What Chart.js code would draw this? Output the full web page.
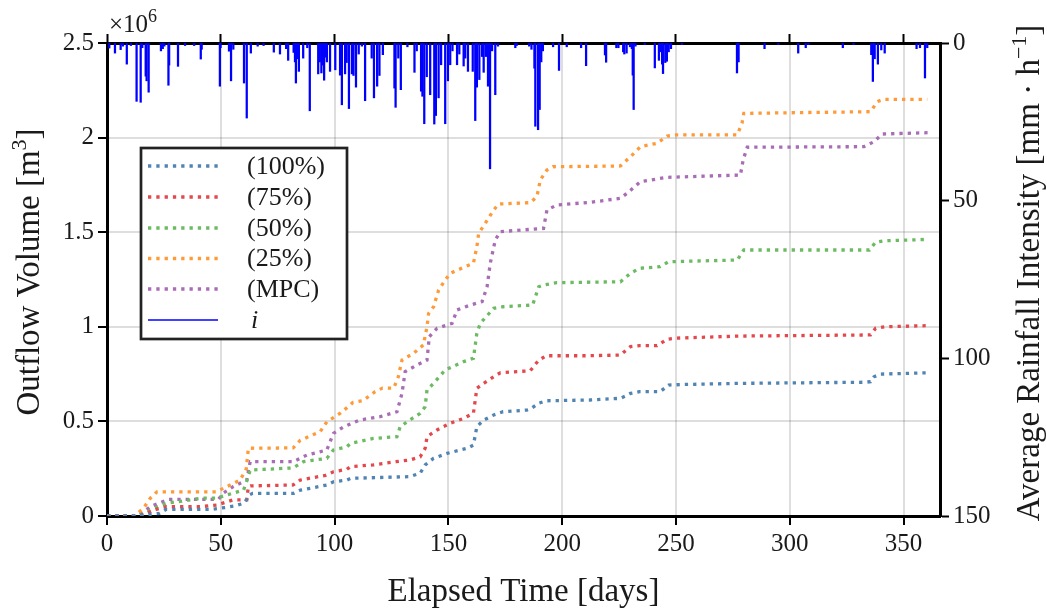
<!DOCTYPE html>
<html>
<head>
<meta charset="utf-8">
<script src="https://cdn.jsdelivr.net/npm/chart.js@4/dist/chart.umd.min.js"></script>
<style>
  html, body { margin: 0; padding: 0; background: #fff; }
  #wrap { width: 1047px; height: 610px; }
</style>
</head>
<body>
<div id="wrap"><canvas id="c" width="1047" height="610"></canvas></div>
<script>
// Cumulative outflow volume per control scenario, in 10^6 m³
const days100 = [0, 12, 16, 20, 23, 26, 46, 52, 56, 60, 61.5, 62.5, 64, 82, 85, 90, 96.6, 99.5, 105.4, 107, 133, 137.6, 139.8, 143.5, 149.4, 158.2, 161, 162.5, 165.5, 169.9, 174, 184.5, 186, 189.7, 193, 212, 225.6, 228, 230, 234, 243, 246.8, 253, 278, 333, 335.5, 337, 340, 360.4];
const vol100  = [0, 0, 0.004, 0.01, 0.014, 0.035, 0.035, 0.045, 0.053, 0.067, 0.09, 0.111, 0.12, 0.12, 0.137, 0.148, 0.164, 0.181, 0.19, 0.199, 0.208, 0.226, 0.27, 0.305, 0.331, 0.358, 0.375, 0.472, 0.507, 0.534, 0.551, 0.56, 0.565, 0.596, 0.609, 0.613, 0.622, 0.635, 0.648, 0.657, 0.657, 0.692, 0.695, 0.701, 0.707, 0.71, 0.736, 0.75, 0.757];

const days75 = [0, 13, 17, 20, 26, 41, 48.2, 55.4, 61.4, 62.1, 63, 81.8, 84.9, 96, 99.5, 105.4, 107, 117, 127, 133, 137.6, 139.8, 140.6, 145, 150.8, 156.7, 161, 162.5, 165.5, 169.9, 172.8, 186, 189.7, 193, 212, 225.6, 230, 234, 241.7, 246.1, 250, 278, 335.5, 337.7, 341.8, 360.4];
const vol75  = [0, 0, 0.01, 0.03, 0.049, 0.049, 0.058, 0.085, 0.085, 0.155, 0.159, 0.164, 0.19, 0.215, 0.234, 0.247, 0.261, 0.27, 0.287, 0.296, 0.313, 0.358, 0.419, 0.455, 0.49, 0.516, 0.543, 0.675, 0.701, 0.736, 0.757, 0.768, 0.824, 0.847, 0.847, 0.851, 0.895, 0.9, 0.9, 0.934, 0.94, 0.951, 0.957, 0.992, 1.0, 1.006];

const days50 = [0, 13, 17, 20.4, 26, 41.8, 48, 52.6, 60, 62.1, 62.9, 81.8, 86.3, 96.6, 99.5, 105.4, 107, 117, 127.4, 128.8, 133, 137.6, 139.8, 140.6, 143.5, 148.6, 156.7, 161, 162.5, 164, 169.9, 174, 187, 189.7, 191.8, 197.7, 225.6, 230, 234, 243, 246.8, 276.9, 279.8, 335, 337.7, 341.8, 360.8];
const vol50  = [0, 0, 0.015, 0.04, 0.067, 0.094, 0.094, 0.111, 0.137, 0.208, 0.243, 0.254, 0.287, 0.305, 0.349, 0.366, 0.384, 0.41, 0.419, 0.472, 0.507, 0.543, 0.578, 0.666, 0.701, 0.772, 0.816, 0.834, 0.966, 1.018, 1.098, 1.106, 1.115, 1.212, 1.221, 1.233, 1.238, 1.283, 1.309, 1.318, 1.344, 1.353, 1.406, 1.406, 1.447, 1.455, 1.462];

const days25 = [0, 12, 16, 19, 22, 48, 52.6, 58.5, 61.2, 62.1, 81.8, 84.9, 93.7, 96.6, 102.5, 106.9, 108, 112.5, 117.8, 121, 126, 128, 129.6, 134.7, 139, 140.6, 141.3, 143.5, 145.7, 148.6, 150.8, 156.7, 161, 162.5, 163.3, 166.2, 169.9, 172, 186, 188.9, 190.4, 193.3, 196, 225.6, 230, 234.4, 241.7, 246.1, 250.5, 276.9, 279, 279.8, 335.5, 338.4, 341, 360.4];
const vol25  = [0, 0, 0.04, 0.094, 0.128, 0.128, 0.155, 0.19, 0.25, 0.358, 0.36, 0.40, 0.446, 0.498, 0.543, 0.587, 0.60, 0.61, 0.657, 0.676, 0.676, 0.736, 0.824, 0.86, 0.904, 1.0, 1.07, 1.106, 1.194, 1.247, 1.283, 1.314, 1.336, 1.423, 1.494, 1.547, 1.617, 1.649, 1.656, 1.688, 1.776, 1.829, 1.846, 1.85, 1.899, 1.952, 1.97, 2.008, 2.014, 2.014, 2.076, 2.128, 2.137, 2.19, 2.202, 2.202];

const daysMPC = [0, 13, 16, 19, 27, 49, 51, 55.4, 61.4, 62.9, 81.8, 87.8, 96.6, 99.5, 104, 111, 120, 127.4, 129.6, 131, 136.2, 140.6, 141.6, 145, 151.6, 153.8, 159.6, 164.8, 167, 168.4, 170.6, 172.8, 191.8, 193.3, 197.7, 212.4, 225.6, 228.5, 234.4, 246.1, 278.3, 279.5, 281.3, 332.6, 337, 340.6, 361];
const volMPC  = [0, 0, 0.02, 0.049, 0.088, 0.088, 0.12, 0.155, 0.19, 0.287, 0.287, 0.322, 0.349, 0.437, 0.472, 0.507, 0.525, 0.551, 0.648, 0.763, 0.798, 0.824, 0.948, 0.992, 1.018, 1.089, 1.115, 1.133, 1.212, 1.336, 1.459, 1.503, 1.52, 1.617, 1.644, 1.658, 1.679, 1.706, 1.767, 1.79, 1.802, 1.882, 1.949, 1.952, 1.978, 2.019, 2.026];

// Average rainfall intensity events (day, mm/h)
const rainDays = [1.0, 3.5, 6.0, 7.0, 8.7, 10.5, 13.0, 14.8, 15.5, 17.0, 17.4, 18.3, 23.7, 24.5, 25.2, 27.0, 27.3, 31.2, 34.3, 38.3, 41.2, 41.6, 49.6, 49.9, 53.6, 54.5, 55.5, 60.2, 61.4, 63.2, 66.2, 68.8, 73.3, 76.0, 78.7, 79.6, 82.0, 82.6, 83.0, 83.6, 84.3, 86.2, 88.0, 89.1,
  92.8, 93.5, 94.2, 94.8, 95.4, 96.0, 96.6, 98.0, 100.3, 102.4, 103.2, 104.6, 105.3, 106.3, 107.6, 108.3, 109.4, 110.6, 112.0, 113.4, 116.3, 117.3, 118.7, 119.7, 121.2, 126.3, 126.8, 128.0, 129.1, 132.0, 135.1, 136.1, 138.0, 138.6, 139.4, 140.5, 142.0, 143.8, 144.5, 145.7, 146.8, 148.6, 149.8, 150.8, 151.8, 153.8, 154.8, 156.7, 157.4, 158.6, 160.7, 161.8, 162.5, 163.6, 164.8, 165.5, 166.5, 167.4, 168.3, 169.2, 170.6, 171.8, 179.4, 180.0,
  185.5, 186.5, 187.8, 188.2, 189.4, 190.1, 190.8, 191.5, 196.0, 198.6, 202.0, 208.3, 210.5, 218.8, 219.3, 223.8, 224.7, 226.8, 227.3, 228.3, 229.8, 230.6, 231.0, 231.4, 232.2, 236.3, 240.7, 242.5, 243.2, 243.9, 244.3, 245.3, 246.0, 246.8, 247.8, 252.6,
  276.8, 277.5, 288.9, 295.0, 303.7, 307.0, 308.2, 323.3, 328.0, 335.8, 336.5, 337.3, 338.7, 340.2, 341.7, 355.7, 357.2, 359.4, 360.4];
const rainIntensity = [1.6, 3.2, 2.1, 1.0, 6.7, 0.8, 18.5, 18.8, 1.5, 10.5, 12.0, 15.6, 2.5, 1.8, 1.0, 13.4, 7.0, 7.4, 0.8, 0.8, 5.1, 2.0, 13.7, 1.5, 2.6, 12.0, 2.0, 12.7, 23.8, 3.2, 1.0, 0.8, 2.9, 3.5, 1.8, 5.5, 3.0, 6.0, 12.7, 5.0, 9.0, 4.8, 1.5, 21.5,
  9.8, 6.0, 9.5, 7.0, 11.8, 4.5, 6.0, 9.0, 8.5, 10.2, 19.6, 9.8, 6.2, 20.8, 9.8, 10.3, 14.0, 3.5, 1.0, 18.3, 4.8, 17.4, 13.7, 10.3, 3.7, 14.3, 20.4, 4.8, 14.8, 1.2, 9.3, 2.5, 15.3, 16.9, 25.6, 10.7, 16.4, 25.7, 23.0, 17.4, 6.9, 25.6, 12.0, 6.9, 2.5, 6.9, 3.5, 7.3, 4.8, 9.0, 9.0, 24.6, 14.0, 11.6, 4.3, 9.3, 4.3, 13.7, 39.9, 2.5, 16.4, 1.0, 1.5, 0.8,
  1.0, 2.0, 8.0, 26.4, 27.5, 21.1, 6.0, 2.5, 1.2, 8.7, 1.2, 1.5, 7.2, 3.8, 6.1, 1.5, 1.5, 2.8, 3.5, 3.2, 1.2, 1.8, 10.2, 21.1, 1.0, 0.5, 7.9, 5.5, 2.8, 6.7, 9.7, 6.2, 5.8, 2.8, 1.8, 0.5,
  9.5, 6.0, 1.8, 0.5, 3.2, 1.5, 0.5, 1.5, 0.5, 3.7, 12.2, 5.0, 6.7, 2.2, 3.2, 1.8, 1.5, 11.1, 1.5];

const seriesLabels = ['(100%)', '(75%)', '(50%)', '(25%)', '(MPC)'];
const seriesColors = ['#5084b3', '#e4484c', '#6cba62', '#ff9a38', '#a86db5'];
const seriesDays = [days100, days75, days50, days25, daysMPC];
const seriesVols = [vol100, vol75, vol50, vol25, volMPC];

const xTicks = [0, 50, 100, 150, 200, 250, 300, 350];

const FONT = '"Liberation Serif", "Times New Roman", serif';
const INK = '#1a1a1a';

const lineSets = seriesLabels.map((label, i) => ({
  type: 'line',
  label,
  data: seriesDays[i].map((d, k) => ({ x: d, y: seriesVols[i][k] })),
  xAxisID: 'x',
  yAxisID: 'y',
  borderColor: seriesColors[i],
  backgroundColor: seriesColors[i],
  borderWidth: 3.3,
  borderDash: [3.3, 5],
  borderCapStyle: 'butt',
  pointRadius: 0,
  tension: 0,
  fill: false,
  order: 1
}));

const rainSet = {
  type: 'bar',
  label: 'i',
  data: rainDays.map((d, k) => ({ x: d, y: rainIntensity[k] })),
  xAxisID: 'x',
  yAxisID: 'y2',
  backgroundColor: '#0000ff',
  borderWidth: 0,
  barThickness: 1.6,
  grouped: false,
  order: 0
};

function keepXTicks(scale) {
  scale.ticks = xTicks.map(v => ({ value: v }));
}

const tickStyle = { tickLength: 9, tickWidth: 2, tickColor: '#000' };
const gridColor = 'rgba(0,0,0,0.13)';

// Draw a run of text pieces (with optional superscripts) centred on (0,0)
function drawRuns(ctx, runs, align) {
  let total = 0;
  const widths = runs.map(r => {
    ctx.font = `${r.italic ? 'italic ' : ''}${r.size}px ${FONT}`;
    const w = ctx.measureText(r.t).width;
    total += w;
    return w;
  });
  let x = align === 'left' ? 0 : -total / 2;
  runs.forEach((r, i) => {
    ctx.font = `${r.italic ? 'italic ' : ''}${r.size}px ${FONT}`;
    ctx.fillText(r.t, x, r.dy || 0);
    x += widths[i];
  });
}

const annotations = {
  id: 'annotations',
  afterDraw(chart) {
    const ctx = chart.ctx;
    const area = chart.chartArea;
    ctx.save();
    ctx.fillStyle = INK;
    ctx.textBaseline = 'alphabetic';

    // left axis title
    ctx.save();
    ctx.translate(39, 272);
    ctx.rotate(-Math.PI / 2);
    drawRuns(ctx, [
      { t: 'Outflow Volume [m', size: 33 },
      { t: '3', size: 22, dy: -13 },
      { t: ']', size: 33 }
    ]);
    ctx.restore();

    // right axis title
    ctx.save();
    ctx.translate(1039, 273);
    ctx.rotate(-Math.PI / 2);
    drawRuns(ctx, [
      { t: 'Average Rainfall Intensity [mm \u00B7 h', size: 33 },
      { t: '\u22121', size: 22, dy: -13 },
      { t: ']', size: 33 }
    ]);
    ctx.restore();

    // bottom axis title
    ctx.save();
    ctx.translate((area.left + area.right) / 2, 601);
    drawRuns(ctx, [{ t: 'Elapsed Time [days]', size: 33 }]);
    ctx.restore();

    // scale factor of the left axis
    ctx.save();
    ctx.translate(area.left + 2, 32);
    drawRuns(ctx, [
      { t: '\u00D710', size: 25 },
      { t: '6', size: 18, dy: -10 }
    ], 'left');
    ctx.restore();

    // legend box
    const bx = 141, by = 148, bw = 206, bh = 191;
    ctx.fillStyle = '#fff';
    ctx.fillRect(bx, by, bw, bh);
    ctx.lineWidth = 2.7;
    ctx.strokeStyle = '#222';
    ctx.strokeRect(bx, by, bw, bh);

    const rowY = [166, 197, 228, 258.5, 289, 320];
    const x0 = 148, x1 = 218, tx = 247;
    ctx.textBaseline = 'middle';
    chart.data.datasets.forEach((ds, i) => {
      const y = rowY[i];
      ctx.save();
      ctx.beginPath();
      if (ds.type === 'bar') {
        ctx.strokeStyle = '#0000ff';
        ctx.lineWidth = 1.6;
        ctx.setLineDash([]);
      } else {
        ctx.strokeStyle = ds.borderColor;
        ctx.lineWidth = 3.3;
        ctx.lineCap = 'butt';
        ctx.setLineDash([3.3, 5]);
      }
      ctx.moveTo(x0, y);
      ctx.lineTo(x1, y);
      ctx.stroke();
      ctx.restore();
      ctx.fillStyle = INK;
      if (ds.type === 'bar') {
        ctx.font = `italic 26px ${FONT}`;
        ctx.fillText(ds.label, tx + 4, y + 1);
      } else {
        ctx.font = `26px ${FONT}`;
        ctx.fillText(ds.label, tx, y + 1);
      }
    });
    ctx.restore();
  }
};

const tickFont = { family: FONT, size: 25 };

new Chart(document.getElementById('c'), {
  type: 'line',
  data: { datasets: [...lineSets, rainSet] },
  options: {
    responsive: false,
    animation: false,
    layout: { padding: 0 },
    plugins: { legend: { display: false }, tooltip: { enabled: false } },
    scales: {
      x: {
        type: 'linear', position: 'bottom', min: 0, max: 366, offset: false,
        afterBuildTicks: keepXTicks,
        afterFit: s => { s.height = 94; },
        grid: { color: gridColor, lineWidth: 2, offset: false, ...tickStyle },
        border: { display: true, color: '#000', width: 3 },
        ticks: { color: INK, font: tickFont, padding: 4, maxRotation: 0 }
      },
      x2: {
        type: 'linear', position: 'top', min: 0, max: 366, offset: false,
        afterBuildTicks: keepXTicks,
        afterFit: s => { s.height = 43; },
        grid: { drawOnChartArea: false, offset: false, ...tickStyle },
        border: { display: true, color: '#000', width: 3 },
        ticks: { display: false }
      },
      y: {
        type: 'linear', position: 'left', min: 0, max: 2.5,
        afterFit: s => { s.width = 107; },
        grid: { color: gridColor, lineWidth: 2, ...tickStyle },
        border: { display: true, color: '#000', width: 3 },
        ticks: { stepSize: 0.5, color: INK, font: tickFont, padding: 4, callback: v => String(v) }
      },
      y2: {
        type: 'linear', position: 'right', min: 0, max: 150, reverse: true,
        afterFit: s => { s.width = 107; },
        grid: { drawOnChartArea: false, ...tickStyle },
        border: { display: true, color: '#000', width: 3 },
        ticks: { stepSize: 50, color: INK, font: tickFont, padding: 4, callback: v => String(v) }
      }
    }
  },
  plugins: [annotations]
});
</script>
</body>
</html>
